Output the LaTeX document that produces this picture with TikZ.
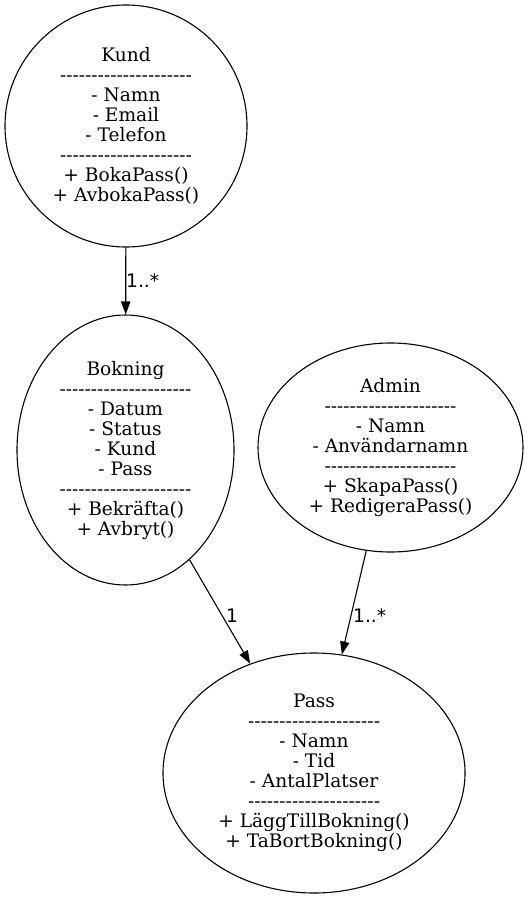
\documentclass[tikz,border=0pt]{standalone}
\usepackage{fontspec}
\setmainfont{DejaVu Serif}
\newfontfamily\lblfont{DejaVu Sans}
\usetikzlibrary{shapes.geometric,arrows.meta}
\tikzset{
  cls/.style={draw, ellipse, line width=1.1pt, inner sep=0pt, align=center,
    font=\fontsize{18.6}{20}\selectfont},
  conn/.style={line width=1.1pt, -{Triangle[length=13pt,width=9.3pt]}},
  mult/.style={font=\lblfont\fontsize{18.6}{20}\selectfont, inner sep=0pt, anchor=west}
}
\newcommand{\dl}{-{}-{}-{}-{}-{}-{}-{}-{}-{}-{}-{}-{}-{}-{}-{}-{}-{}-{}-{}-{}-{}}
\begin{document}
\begin{tikzpicture}[x=1pt,y=-1pt]
\useasboundingbox (0,0) rectangle (529,899);
\node[cls, minimum width=242pt, minimum height=242pt] (kund) at (126,126)
  {Kund\\\dl\\- Namn\\- Email\\- Telefon\\\dl\\+ BokaPass()\\+ AvbokaPass()};
\node[cls, minimum width=217pt, minimum height=270pt] (bokning) at (125.5,450)
  {Bokning\\\dl\\- Datum\\- Status\\- Kund\\- Pass\\\dl\\+ Bekräfta()\\+ Avbryt()};
\node[cls, minimum width=265pt, minimum height=209pt] (admin) at (390.5,447.5)
  {Admin\\\dl\\- Namn\\- Användarnamn\\\dl\\+ SkapaPass()\\+ RedigeraPass()};
\node[cls, minimum width=302pt, minimum height=240pt] (pass) at (314,773)
  {Pass\\\dl\\- Namn\\- Tid\\- AntalPlatser\\\dl\\+ LäggTillBokning()\\+ TaBortBokning()};
\draw[conn] (kund) -- (bokning);
\draw[conn] (bokning) -- (pass);
\draw[conn] (admin) -- (pass);
\node[mult] (m1) at (126,281) {1..*};
\node[mult] (m2) at (226,616) {1};
\node[mult] (m3) at (353,616) {1..*};
\end{tikzpicture}
\end{document}
